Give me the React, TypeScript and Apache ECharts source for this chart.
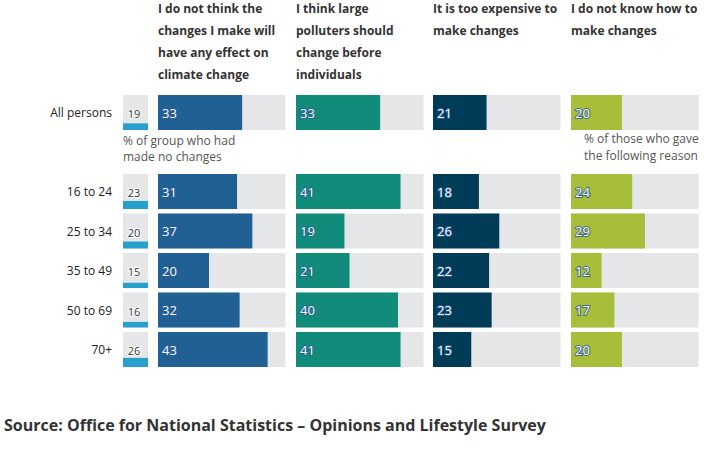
import React, { useEffect, useRef } from "react";
import * as echarts from "echarts";

const rows = ["All persons", "16 to 24", "25 to 34", "35 to 49", "50 to 69", "70+"];
const noChange = [19, 23, 20, 15, 16, 26];
const noEffect = [33, 31, 37, 20, 32, 43];
const polluters = [33, 41, 19, 21, 40, 41];
const expensive = [21, 18, 26, 22, 23, 15];
const dontKnow = [20, 24, 29, 12, 17, 20];

const headers = [
  "I do not think the\nchanges I make will\nhave any effect on\nclimate change",
  "I think large\npolluters should\nchange before\nindividuals",
  "It is too expensive to\nmake changes",
  "I do not know how to\nmake changes",
];
const sourceText = "Source: Office for National Statistics \u2013 Opinions and Lifestyle Survey";
const noteLeft = "% of group who had\nmade no changes";
const noteRight = "% of those who gave\nthe following reason";

const FONT = "'Open Sans', 'Noto Sans', sans-serif";
const PANEL_MAX = 50;
const SMALL_MAX = 100;
const GREY = "#e5e6e7";

export default function App() {
  const ref = useRef<HTMLDivElement>(null);
  useEffect(() => {
    if (!ref.current) return;
    const chart = echarts.init(ref.current, undefined, { renderer: "svg" });

    // categories with a spacer after "All persons"
    const cats = [rows[0], " ", ...rows.slice(1)];
    const withSpacer = (arr: number[]) => [arr[0], "-", ...arr.slice(1)];

    const top0 = 92.75;
    const pitch = 39.5;
    const panelLefts = [158, 296, 433, 571];
    const panelWidth = 127.5;
    const panelColors = ["#206095", "#118c7b", "#003c57", "#a8bd3a"];
    const panelData = [noEffect, polluters, expensive, dontKnow];

    const grids: any[] = [];
    const xAxes: any[] = [];
    const yAxes: any[] = [];
    const series: any[] = [];

    panelData.forEach((vals, p) => {
      grids.push({ left: panelLefts[p], top: top0, width: panelWidth, height: pitch * 7 });
      xAxes.push({ type: "value", gridIndex: p, min: 0, max: PANEL_MAX, show: false });
      yAxes.push({
        type: "category",
        gridIndex: p,
        data: cats,
        inverse: true,
        axisLine: { show: false },
        axisTick: { show: false },
        splitLine: { show: false },
        axisLabel: {
          show: p === 0,
          margin: 46,
          color: "#222",
          fontSize: 12,
          fontFamily: FONT,
          formatter: (v: string) => v.trim(),
        },
      });
      series.push({
        type: "bar",
        xAxisIndex: p,
        yAxisIndex: p,
        data: withSpacer(vals.map(() => PANEL_MAX)),
        barWidth: 35,
        silent: true,
        itemStyle: { color: GREY },
        z: 1,
      });
      series.push({
        type: "bar",
        xAxisIndex: p,
        yAxisIndex: p,
        data: withSpacer(vals),
        barWidth: 35,
        barGap: "-100%",
        itemStyle: { color: panelColors[p] },
        z: 2,
        label: {
          show: true,
          position: "insideLeft",
          distance: 4,
          color: "#fff",
          fontSize: 13,
          fontFamily: FONT,
          textBorderColor: "rgba(40,90,150,0.85)",
          textBorderWidth: 2,
        },
      });
    });

    // small column: one grid per row
    const rowIdx = [0, 2, 3, 4, 5, 6];
    noChange.forEach((v, i) => {
      const g = grids.length;
      const center = top0 + pitch * (rowIdx[i] + 0.5);
      grids.push({ left: 123, top: center - 17.5, width: 25, height: 35 });
      xAxes.push({ type: "category", gridIndex: g, data: [rows[i]], show: false });
      yAxes.push({ type: "value", gridIndex: g, min: 0, max: SMALL_MAX, show: false });
      series.push({
        type: "bar",
        xAxisIndex: g,
        yAxisIndex: g,
        data: [v],
        barWidth: 25,
        itemStyle: { color: "#27a0cc" },
        showBackground: true,
        backgroundStyle: { color: GREY },
        label: {
          show: true,
          position: "insideBottom",
          color: "#333",
          fontSize: 11,
          fontFamily: FONT,
          textBorderColor: "#fff",
          textBorderWidth: 2,
        },
        labelLayout: () => ({
          x: 134,
          y: center + 1,
          align: "center",
          verticalAlign: "middle",
        }),
      });
    });

    const graphic: any[] = headers.map((h, p) => ({
      type: "text",
      left: panelLefts[p],
      top: -3,
      style: {
        text: h,
        font: `bold 12px ${FONT}`,
        lineHeight: 22,
        fill: "#333",
      },
    }));
    graphic.push({
      type: "text",
      left: 123,
      top: 132,
      style: { text: noteLeft, font: `12px ${FONT}`, lineHeight: 16.5, fill: "#555" },
    });
    graphic.push({
      type: "text",
      left: 584,
      top: 130,
      style: { text: noteRight, font: `12px ${FONT}`, lineHeight: 17, fill: "#555" },
    });
    graphic.push({
      type: "text",
      left: 4,
      top: 417,
      style: { text: sourceText, font: `bold 16px ${FONT}`, fill: "#333" },
    });

    chart.setOption({
      animation: false,
      grid: grids,
      xAxis: xAxes,
      yAxis: yAxes,
      series,
      graphic,
    });
    return () => chart.dispose();
  }, []);

  return (
    <div
      ref={ref}
      style={{ position: "fixed", left: 0, top: 0, width: 709, height: 465, background: "#fff" }}
    />
  );
}
